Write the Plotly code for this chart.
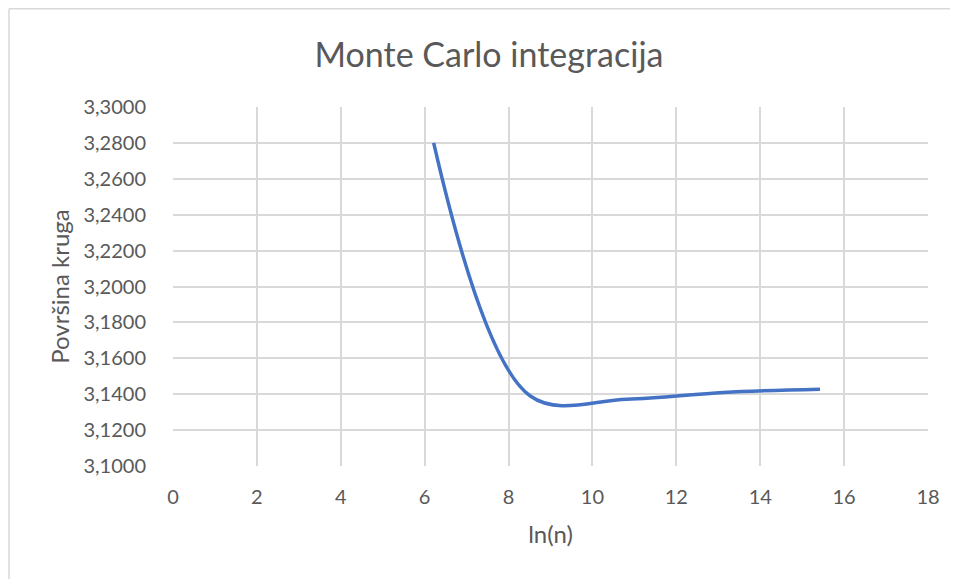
import numpy as np
import plotly.graph_objects as go

# broj tocaka n i procjena povrsine kruga (pi) za svaki n
n_points = [500, 5000, 50000, 500000, 5000000]
area_estimate = [3.2800, 3.1390, 3.1372, 3.1410, 3.1428]
ln_n = np.log(n_points)

y_ticks = [3.10, 3.12, 3.14, 3.16, 3.18, 3.20, 3.22, 3.24, 3.26, 3.28, 3.30]
x_ticks = [0, 2, 4, 6, 8, 10, 12, 14, 16, 18]

# the page body adds an 8px margin, so the figure is drawn 8px smaller/shifted
body = 8
W, H = 958 - body, 579 - body
margin = dict(l=173 - body, r=30, t=107 - body, b=113)
text_col = '#595959'
grid_col = '#d9d9d9'
font_family = 'Lato'

fig = go.Figure()
fig.add_trace(go.Scatter(
    x=ln_n,
    y=area_estimate,
    mode='lines',
    line=dict(color='#4472C4', width=3.5, shape='spline', smoothing=1.0),
    showlegend=False,
))

# outer chart border (only top and left edges visible in the screenshot)
pw = W - margin['l'] - margin['r']
ph = H - margin['t'] - margin['b']
def px_x(p):
    return (p - margin['l']) / pw
def px_y(p):
    return (H - margin['b'] - p) / ph

border_x, border_y = 1, 0.8
fig.add_shape(type='line', xref='paper', yref='paper',
              x0=px_x(border_x), x1=px_x(W + 5), y0=px_y(border_y), y1=px_y(border_y),
              line=dict(color=grid_col, width=1.5))
fig.add_shape(type='line', xref='paper', yref='paper',
              x0=px_x(border_x), x1=px_x(border_x), y0=px_y(border_y), y1=px_y(H + 5),
              line=dict(color=grid_col, width=1.5))

fig.update_layout(
    width=W, height=H,
    margin=margin,
    paper_bgcolor='white',
    plot_bgcolor='white',
    separators=', ',
    font=dict(family=font_family, color=text_col, size=20),
    title=dict(text='Monte Carlo integracija', x=(489 - body) / W, xanchor='center',
               y=1 - (55 - body) / H, yanchor='middle', yref='container',
               font=dict(size=34, color=text_col, family=font_family)),
    xaxis=dict(
        range=[0, 18], tickvals=x_ticks, tickformat='d',
        showgrid=True, gridcolor=grid_col, gridwidth=1.5,
        zeroline=False, showline=False,
        ticks='', ticklabelstandoff=17,
        title=dict(text='ln(n)', standoff=19, font=dict(size=24)),
    ),
    yaxis=dict(
        range=[3.10, 3.30], tickvals=y_ticks, tickformat='.4f',
        showgrid=True, gridcolor=grid_col, gridwidth=1.5,
        zeroline=False, showline=False,
        ticks='', ticklabelstandoff=26,
        title=dict(text='Površina kruga', standoff=7, font=dict(size=24)),
    ),
)

fig.write_html('out.html')
